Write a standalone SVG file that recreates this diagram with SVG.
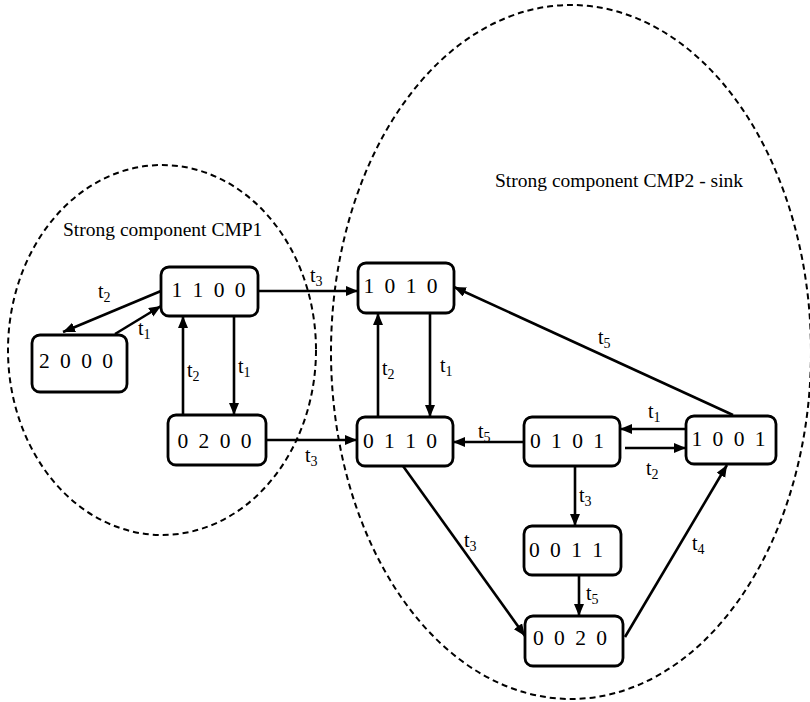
<svg xmlns="http://www.w3.org/2000/svg" width="810" height="702" viewBox="0 0 810 702">
<style>
.box{fill:#fff;stroke:#000;stroke-width:2.8}
.nt{font-family:"Liberation Serif","Times New Roman",serif;font-size:21.5px;word-spacing:5px;text-anchor:middle;fill:#000}
.lbl{font-family:"Liberation Serif","Times New Roman",serif;font-size:20px;fill:#000}
.sub{font-size:14px}
.title{font-family:"Liberation Serif","Times New Roman",serif;font-size:19.5px;fill:#000}
.edge{stroke:#000;stroke-width:2.6;fill:none;marker-end:url(#ah)}
.cmp{fill:none;stroke:#000;stroke-width:2;stroke-dasharray:6 4}
</style>
<defs>
<marker id="ah" markerUnits="userSpaceOnUse" markerWidth="13" markerHeight="11" refX="12" refY="5" orient="auto">
<path d="M0,0 L12,5 L0,10 z" fill="#000"/>
</marker>
</defs>
<rect width="810" height="702" fill="#fff"/>
<g id="components">
<ellipse class="cmp" cx="162" cy="350" rx="154" ry="185"/>
<ellipse class="cmp" cx="571" cy="352" rx="240" ry="347"/>
<text class="title" x="63" y="236">Strong component CMP1</text>
<text class="title" x="495" y="187">Strong component CMP2 - sink</text>
</g>
<g id="connectors">
<line class="edge" x1="161" y1="291" x2="63" y2="332"/>
<line class="edge" x1="115" y1="334" x2="161" y2="306"/>
<line class="edge" x1="234" y1="316" x2="234" y2="415"/>
<line class="edge" x1="183" y1="415" x2="183" y2="316"/>
<line class="edge" x1="258" y1="291" x2="358" y2="291"/>
<line class="edge" x1="266" y1="440" x2="357" y2="440"/>
<line class="edge" x1="378" y1="417" x2="378" y2="313"/>
<line class="edge" x1="430" y1="313" x2="430" y2="417"/>
<line class="edge" x1="733" y1="415" x2="454" y2="287"/>
<line class="edge" x1="686" y1="429" x2="620" y2="429"/>
<line class="edge" x1="625" y1="448" x2="686" y2="448"/>
<line class="edge" x1="524" y1="442" x2="453" y2="442"/>
<line class="edge" x1="575" y1="466" x2="575" y2="526"/>
<line class="edge" x1="579" y1="575" x2="579" y2="616"/>
<line class="edge" x1="403" y1="466" x2="525" y2="636"/>
<line class="edge" x1="625" y1="637" x2="727" y2="465"/>
<text class="lbl" x="98" y="298">t<tspan class="sub" dy="4">2</tspan></text>
<text class="lbl" x="138" y="335">t<tspan class="sub" dy="4">1</tspan></text>
<text class="lbl" x="238" y="373">t<tspan class="sub" dy="4">1</tspan></text>
<text class="lbl" x="187" y="377">t<tspan class="sub" dy="4">2</tspan></text>
<text class="lbl" x="310" y="282">t<tspan class="sub" dy="4">3</tspan></text>
<text class="lbl" x="305" y="462">t<tspan class="sub" dy="4">3</tspan></text>
<text class="lbl" x="382" y="375">t<tspan class="sub" dy="4">2</tspan></text>
<text class="lbl" x="440" y="372">t<tspan class="sub" dy="4">1</tspan></text>
<text class="lbl" x="598" y="344">t<tspan class="sub" dy="4">5</tspan></text>
<text class="lbl" x="478" y="438">t<tspan class="sub" dy="4">5</tspan></text>
<text class="lbl" x="648" y="418">t<tspan class="sub" dy="4">1</tspan></text>
<text class="lbl" x="646" y="475">t<tspan class="sub" dy="4">2</tspan></text>
<text class="lbl" x="579" y="502">t<tspan class="sub" dy="4">3</tspan></text>
<text class="lbl" x="586" y="600">t<tspan class="sub" dy="4">5</tspan></text>
<text class="lbl" x="464" y="547">t<tspan class="sub" dy="4">3</tspan></text>
<text class="lbl" x="692" y="550">t<tspan class="sub" dy="4">4</tspan></text>
</g>
<g id="n1100"><rect class="box" x="161" y="267" width="97" height="49" rx="8"/><text class="nt" x="208.5" y="297">1 1 0 0</text></g>
<g id="n2000"><rect class="box" x="32" y="335" width="95" height="57" rx="8"/><text class="nt" x="76" y="368">2 0 0 0</text></g>
<g id="n0200"><rect class="box" x="168" y="415" width="98" height="50" rx="8"/><text class="nt" x="214.5" y="448">0 2 0 0</text></g>
<g id="n1010"><rect class="box" x="358" y="263" width="96" height="50" rx="8"/><text class="nt" x="400.5" y="293">1 0 1 0</text></g>
<g id="n0110"><rect class="box" x="357" y="417" width="96" height="49" rx="8"/><text class="nt" x="400" y="448">0 1 1 0</text></g>
<g id="n0101"><rect class="box" x="524" y="417" width="96" height="49" rx="8"/><text class="nt" x="567" y="448">0 1 0 1</text></g>
<g id="n0011"><rect class="box" x="524" y="526" width="97" height="49" rx="8"/><text class="nt" x="566" y="557">0 0 1 1</text></g>
<g id="n0020"><rect class="box" x="525" y="616" width="98" height="50" rx="8"/><text class="nt" x="570" y="645">0 0 2 0</text></g>
<g id="n1001"><rect class="box" x="686" y="416" width="90" height="48" rx="8"/><text class="nt" x="728.5" y="446">1 0 0 1</text></g>
</svg>
